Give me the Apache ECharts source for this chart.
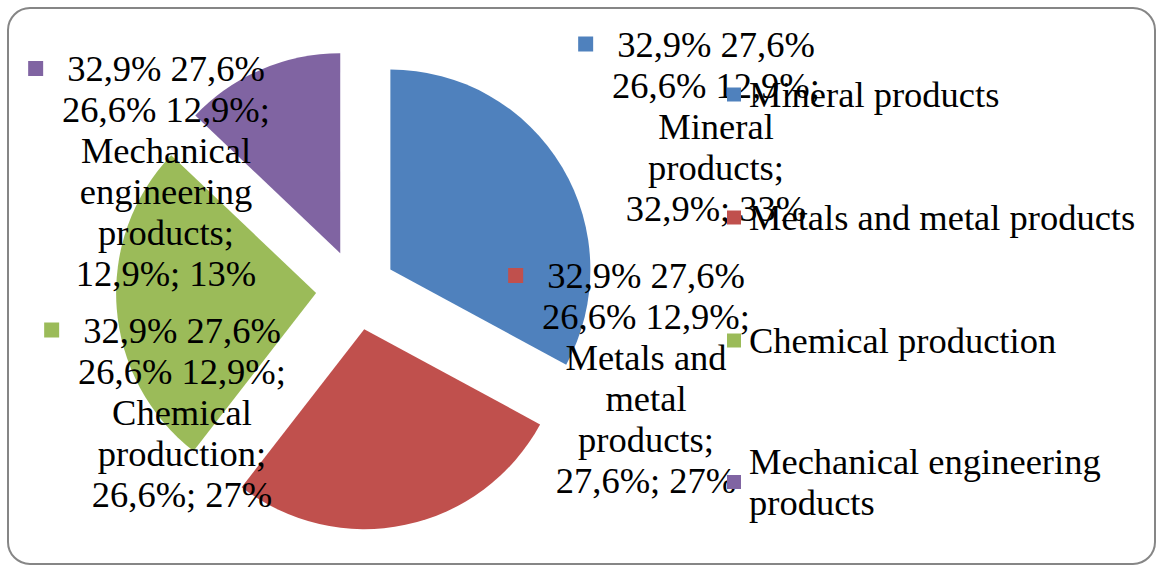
<!DOCTYPE html>
<html>
<head>
<meta charset="utf-8">
<script src="https://cdn.jsdelivr.net/npm/echarts@6/dist/echarts.min.js"></script>
<style>
html,body{margin:0;padding:0;background:#fff;}
#chart{width:1158px;height:568px;}
</style>
</head>
<body>
<div id="chart"></div>
<script>
// ---- data ----
const categories = ['Mineral products', 'Metals and metal products', 'Chemical production', 'Mechanical engineering products'];
const shares = [32.9, 27.6, 26.6, 12.9];
const roundedShares = [33, 27, 27, 13];
const seriesNameLines = ['32,9% 27,6%', '26,6% 12,9%;'];
const labelNameLines = [
  ['Mineral', 'products;'],
  ['Metals and', 'metal', 'products;'],
  ['Chemical', 'production;'],
  ['Mechanical', 'engineering', 'products;']
];
const colors = ['#4F81BD', '#C0504D', '#9BBB59', '#8064A2'];

// label block centres (layout only)
const labelPos = [[716, 126], [646, 378], [182, 412], [166, 171]];

const FONT = 'Liberation Serif';
const FS = 36.5;
const LH = 41;
const fmt = v => v.toFixed(1).replace('.', ',') + '%';

function richFor(i) {
  return {
    mk: {width: 15, height: 15, backgroundColor: colors[i], lineHeight: LH},
    gp: {width: 24, height: 14, lineHeight: LH},
    sp: {width: 15, height: 14, lineHeight: LH},
    t: {fontFamily: FONT, fontSize: FS, lineHeight: LH, fill: '#000'}
  };
}
function labelText(i) {
  return [
    '{mk|}{gp|}{t|' + seriesNameLines[0] + '}{gp|}{sp|}',
    '{t|' + seriesNameLines[1] + '}'
  ].concat(labelNameLines[i].map(s => '{t|' + s + '}'))
   .concat(['{t|' + fmt(shares[i]) + '; ' + roundedShares[i] + '%}'])
   .join('\n');
}

const chart = echarts.init(document.getElementById('chart'), null, {renderer: 'svg'});

const labelGraphics = categories.map((n, i) => ({
  type: 'text',
  x: labelPos[i][0],
  y: labelPos[i][1],
  silent: true,
  z: 3,
  style: {
    text: labelText(i),
    rich: richFor(i),
    fontFamily: FONT,
    fontSize: FS,
    lineHeight: LH,
    fill: '#000',
    align: 'center',
    verticalAlign: 'middle',
    textAlign: 'center',
    textVerticalAlign: 'middle'
  }
}));

const option = {
  animation: false,
  backgroundColor: '#fff',
  graphic: [{
    type: 'rect',
    shape: {x: 8, y: 8, width: 1147, height: 556, r: 22},
    style: {fill: 'none', stroke: '#868686', lineWidth: 2},
    silent: true,
    z: -1
  }].concat(labelGraphics),
  legend: {
    orient: 'vertical',
    left: 727,
    top: 74,
    height: 480,
    icon: 'rect',
    itemWidth: 14,
    itemHeight: 14,
    itemGap: 82,
    padding: 0,
    selectedMode: false,
    z: 10,
    textStyle: {fontFamily: FONT, fontSize: FS, lineHeight: LH, color: '#000', width: 400, overflow: 'break', padding: [0, 0, 0, 3]},
    data: categories.map((n, i) => i === 3
      ? {name: n, textStyle: {padding: [0, 0, -LH, 3]}}
      : {name: n})
  },
  series: [{
    type: 'pie',
    center: [356, 290],
    radius: 200,
    startAngle: 90,
    clockwise: true,
    selectedMode: 'multiple',
    selectedOffset: 40,
    avoidLabelOverlap: false,
    emphasis: {disabled: true},
    select: {itemStyle: {borderWidth: 0}},
    silent: true,
    label: {show: false},
    labelLine: {show: false},
    data: categories.map((n, i) => ({
      name: n,
      value: shares[i],
      selected: true,
      itemStyle: {color: colors[i]}
    }))
  }]
};
chart.setOption(option);
</script>
</body>
</html>
